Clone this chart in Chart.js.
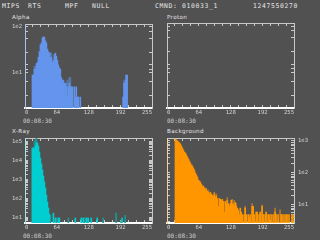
<!DOCTYPE html>
<html>
<head>
<meta charset="utf-8">
<script src="https://cdn.jsdelivr.net/npm/chart.js@4"></script>
<style>
body{margin:0;width:320px;height:240px;overflow:hidden;position:relative;background:#515151;color:#e6e6e6}
canvas{position:absolute;left:0;top:0}
.t{position:absolute;white-space:pre;line-height:1}
.hd{font:6.4px 'DejaVu Sans Mono',monospace;letter-spacing:0.65px;top:1.7px}
.ti{font:5.6px 'DejaVu Sans',sans-serif;letter-spacing:0.35px}
.tm{font:6px 'DejaVu Sans Mono',monospace;color:#cfcfcf}
</style>
</head>
<body>
<div class="t hd" style="left:2px">MIPS</div>
<div class="t hd" style="left:28px">RTS</div>
<div class="t hd" style="left:65px">MPF</div>
<div class="t hd" style="left:92px">NULL</div>
<div class="t hd" style="left:155px">CMND: 010033_1</div>
<div class="t hd" style="left:253px">1247550270</div>

<div class="t ti" style="left:12px;top:13.6px">Alpha</div>
<div class="t ti" style="left:167px;top:13.6px">Proton</div>
<div class="t ti" style="left:12px;top:128.3px">X-Ray</div>
<div class="t ti" style="left:167px;top:127.8px">Background</div>

<div class="t tm" style="left:23px;top:116.9px">00:08:30</div>
<div class="t tm" style="left:167px;top:116.9px">00:08:30</div>
<div class="t tm" style="left:23px;top:231.9px">00:08:30</div>
<div class="t tm" style="left:167px;top:231.9px">00:08:30</div>

<canvas id="alpha" width="320" height="240"></canvas>
<canvas id="proton" width="320" height="240"></canvas>
<canvas id="xray" width="320" height="240"></canvas>
<canvas id="bg" width="320" height="240"></canvas>

<script>
// channel axis: 0..255, histogram read in pairs of channels (128 entries)
const xTickValues = [0,16,32,48,64,80,96,112,128,144,160,176,192,208,224,240,255];
const xLabelValues = [0,64,128,192,255];

const alphaCounts = [
    0,0,0,0,0,0,0,9, 9,12,12,16,17,22,29,41,
    45,58,61,60,50,45,33,29, 27,21,22,17,19,25,27,23,
    19,15,13,12,8,6,7,6, 6,5,3,5,6,5,5,5,
    0,5,3,5,3,3,0,3, 0,0,0,0,0,0,0,0,
    0,0,0,0,0,0,0,0, 0,0,0,0,0,0,0,0,
    0,0,0,0,0,0,0,0, 0,0,0,0,0,0,0,0,
    0,0,3,6,6,9,9,0, 0,0,0,0,0,0,0,0,
    0,0,0,0,0,0,0,0, 0,0,0,0,0,0,0,0
];
const alphaPeakBins = [9,10,25,26,37,38,41,42,44,45,99,100];
const alphaPeakCounts = [14,14,28,27,7,7,6,7,8,8,7,7];

const xrayCounts = [
    0,0,0,0,0,0,0,48000, 48000,38000,61000,88000,88000,61000,30000,14000,
    7000,3400,1600,790,380,160,70,34, 16,0,0,0,18,0,10,0,
    0,10,10,0,0,0,0,0, 0,0,0,0,0,0,0,0,
    0,0,10,0,0,0,0,0, 10,0,10,0,0,10,0,10,
    0,0,10,0,0,0,0,0, 10,0,0,0,0,0,0,0,
    0,0,0,0,0,0,0,0, 0,0,0,0,0,0,0,0,
    0,10,0,0,0,0,0,0, 0,0,0,0,0,0,0,0,
    0,0,0,0,0,0,0,0, 0,0,0,0,0,0,0,0
];
const xrayPeakBins = [7,9,10,11,25,31,43,59,62,78,91,96,100];
const xrayPeakCounts = [50000,112000,127000,170000,14,10,10,10,10,10,18,7,14];

const bgCounts = [
    0,0,0,0,0,0,0,0, 1150,1080,1000,930,870,806,700,600,
    520,450,420,365,316,274,237,205, 178,166,143,124,100,87,75,60,
    56,52,45,39,39,34,29,32, 27,25,22,25,22,20,19,22,
    18,19,16,9,16,15,14,15, 13,6,13,11,14,11,9,11,
    14,10,11,9,12,9,8,7, 5,8,6,5,0,5,8,5,
    0,5,4,5,0,9,9,5, 0,6,6,0,5,6,0,9,
    5,0,5,6,0,5,5,0, 5,0,5,0,6,5,0,5,
    0,0,5,5,0,5,0,5, 5,0,5,0,0,5,5,0
];
const bgPeakBins = [38,41,47,49,60,65,67,69,78,85,95,108,113];
const bgPeakCounts = [34,29,25,22,17,15,14,11,9,11,10,8,7];

const alphaYTicks = [3.2,6.5,10,12,15,28,57,79,100];
const alphaYLabels = [10,100];
const xrayYTicks = [6,7,8,9,10,20,30,40,50,60,70,80,90,100,200,300,400,500,600,700,800,900,
    1000,2000,3000,4000,5000,6000,7000,8000,9000,10000,20000,30000,40000,50000,60000,70000,80000,90000,100000];
const xrayYLabels = [10,100,1000,10000,100000];
const bgYTicks = [3,4,5,6,7,8,9,10,20,30,40,50,60,70,80,90,100,200,300,400,500,600,700,800,900,1000];
const bgYLabels = [10,100,1000];

const GRAY = '#c8c8c8';
const TXT = '#d4d4d4';
const tickFont = {family: "'DejaVu Sans Mono', monospace", size: 5.6};
const SIDE = 24, BAND = 10;   // fixed axis box sizes (labels are clipped to these)

const toPoints = vals => vals.map((v, k) => ({x: 2 * k + 1, y: v > 0 ? v : null}));
const toPeaks = (bins, vals) => bins.map((k, i) => ({x: 2 * k + 1, y: vals[i]}));

function xAxis(pos) {
    return {
        type: 'linear', position: pos, min: 0, max: 255, offset: false,
        afterFit: s => { s.height = BAND; },
        afterBuildTicks: s => { s.ticks = xTickValues.map(v => ({value: v})); },
        ticks: {
            display: pos === 'bottom', autoSkip: false, maxRotation: 0, align: 'inner',
            padding: 4.4, font: tickFont, color: TXT,
            callback: v => xLabelValues.includes(v) ? String(v) : ''
        },
        grid: {offset: false, drawOnChartArea: false, tickLength: -3, color: GRAY},
        border: pos === 'bottom' ? {color: '#ffffff', width: 2} : {color: GRAY, width: 1}
    };
}

function yAxis(pos, p) {
    return {
        type: 'logarithmic', position: pos, min: p.min, max: p.max,
        afterFit: s => { s.width = SIDE; },
        afterBuildTicks: s => { s.ticks = p.ticks.map(v => ({value: v})); },
        ticks: {
            display: p.labelSide === pos, autoSkip: false,
            padding: pos === 'left' ? 6 : 7, font: tickFont, color: TXT,
            callback: v => p.labels.includes(v) ? '1e' + Math.round(Math.log10(v)) : ''
        },
        grid: {drawOnChartArea: false, tickLength: -3, color: GRAY},
        border: {color: pos === 'left' ? p.edge : GRAY, width: 1}
    };
}

function panel(id, p) {
    const [l, t, r, b] = p.box;
    new Chart(document.getElementById(id), {
        type: 'bar',
        data: {
            datasets: [
                {data: toPoints(p.counts), backgroundColor: p.color, xAxisID: 'x', yAxisID: 'y', order: 0},
                {data: toPeaks(p.peakBins, p.peakCounts), backgroundColor: p.shade, xAxisID: 'x', yAxisID: 'y', order: 1}
            ]
        },
        options: {
            responsive: false, animation: false, devicePixelRatio: 1,
            layout: {padding: {left: l - SIDE, top: t - BAND, right: 320 - r - SIDE, bottom: 240 - b - BAND}},
            datasets: {bar: {grouped: false, barPercentage: 1, categoryPercentage: 1, borderWidth: 0}},
            plugins: {legend: {display: false}, tooltip: {enabled: false}},
            scales: {x: xAxis('bottom'), xTop: xAxis('top'), y: yAxis('left', p), y2: yAxis('right', p)}
        }
    });
}

panel('alpha', {
    box: [25, 24, 152, 108], min: 1.734, max: 116.2, ticks: alphaYTicks, labels: alphaYLabels, labelSide: 'left',
    counts: alphaCounts, peakBins: alphaPeakBins, peakCounts: alphaPeakCounts,
    color: '#6495ed', shade: '#5a78b0', edge: '#a8c0ec'
});
panel('proton', {
    box: [167, 23, 294, 108], min: 1.734, max: 116.2, ticks: alphaYTicks, labels: [], labelSide: 'none',
    counts: [], peakBins: [], peakCounts: [],
    color: '#6495ed', shade: '#5a78b0', edge: GRAY
});
panel('xray', {
    box: [25, 138, 152, 223], min: 5.45, max: 162000, ticks: xrayYTicks, labels: xrayYLabels, labelSide: 'left',
    counts: xrayCounts, peakBins: xrayPeakBins, peakCounts: xrayPeakCounts,
    color: '#00ced1', shade: '#1e9696', edge: '#9ee6e6'
});
panel('bg', {
    box: [167, 138, 294, 223], min: 2.738, max: 1236, ticks: bgYTicks, labels: bgYLabels, labelSide: 'right',
    counts: bgCounts, peakBins: bgPeakBins, peakCounts: bgPeakCounts,
    color: '#ff9600', shade: '#b8782a', edge: '#f2d49a'
});
</script>
</body>
</html>
